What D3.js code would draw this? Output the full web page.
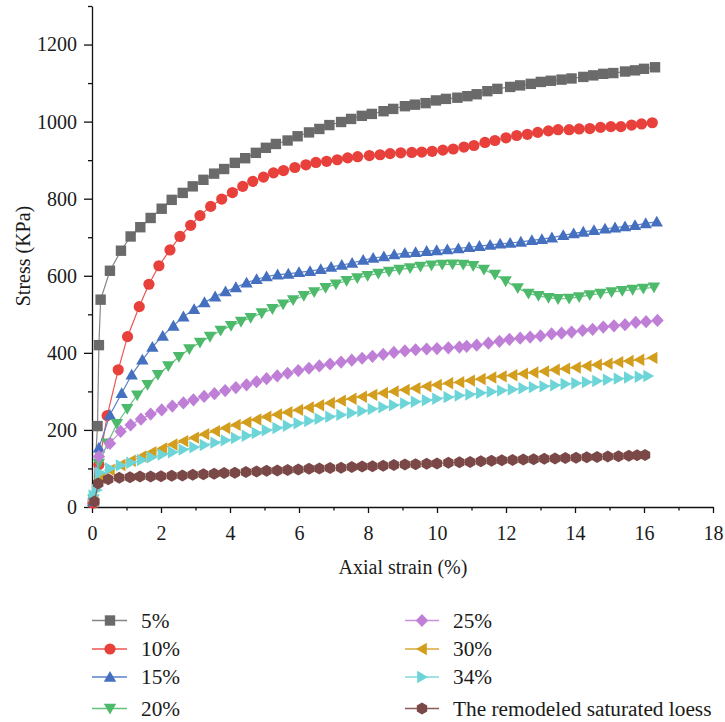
<!DOCTYPE html>
<html>
<head>
<meta charset="utf-8">
<script src="https://cdn.jsdelivr.net/npm/d3@7/dist/d3.min.js"></script>
<style>
  html, body { margin: 0; padding: 0; background: #fff; }
  svg { display: block; }
  text { font-family: "Liberation Serif", "DejaVu Serif", serif; fill: #1a1a1a; }
</style>
</head>
<body>
<svg id="chart" width="725" height="722"></svg>
<script>
// Stress–strain curves, [axial strain %, stress kPa]
const series5 = [[0.03,12],[0.16,210],[0.2,420],[0.25,538],[0.52,613],[0.84,665],[1.12,702],[1.4,726],[1.7,750],[2.02,774],[2.31,797],[2.63,815],[2.92,832],[3.23,849],[3.54,865],[3.83,877],[4.14,893],[4.44,905],[4.75,919],[5.04,932],[5.33,942],[5.67,951],[5.96,962],[6.29,972],[6.59,981],[6.88,991],[7.22,999],[7.51,1007],[7.82,1015],[8.11,1020],[8.45,1027],[8.73,1033],[9.07,1040],[9.36,1044],[9.67,1048],[9.97,1055],[10.26,1059],[10.59,1062],[10.88,1066],[11.15,1071],[11.46,1079],[11.75,1085],[12.12,1090],[12.41,1094],[12.72,1098],[13.01,1103],[13.3,1106],[13.61,1109],[13.9,1112],[14.24,1116],[14.53,1120],[14.82,1124],[15.11,1126],[15.45,1130],[15.74,1133],[16.0,1137],[16.32,1141]];

const series10 = [[0.03,10],[0.2,110],[0.44,237],[0.76,356],[1.03,442],[1.37,520],[1.65,578],[1.94,626],[2.26,667],[2.55,702],[2.86,731],[3.13,756],[3.44,780],[3.76,799],[4.07,816],[4.37,832],[4.66,845],[4.97,856],[5.26,867],[5.55,873],[5.88,881],[6.2,888],[6.49,894],[6.8,897],[7.11,901],[7.41,906],[7.7,909],[8.04,912],[8.35,914],[8.64,917],[8.95,919],[9.27,920],[9.56,921],[9.86,923],[10.17,926],[10.47,929],[10.78,934],[11.07,938],[11.39,946],[11.68,951],[12.0,958],[12.31,964],[12.62,967],[12.92,972],[13.23,976],[13.51,979],[13.83,979],[14.12,981],[14.43,982],[14.74,985],[15.04,987],[15.33,987],[15.64,991],[15.93,994],[16.24,997]];

const series15 = [[0.04,15],[0.2,154],[0.52,239],[0.86,295],[1.15,343],[1.46,382],[1.75,415],[2.05,444],[2.36,470],[2.65,494],[2.96,513],[3.26,531],[3.57,546],[3.87,559],[4.17,570],[4.48,582],[4.77,591],[5.06,598],[5.38,603],[5.69,605],[6.0,609],[6.32,612],[6.63,617],[6.93,623],[7.24,628],[7.54,633],[7.86,641],[8.15,646],[8.46,650],[8.76,655],[9.07,659],[9.38,661],[9.7,664],[9.99,666],[10.3,668],[10.62,671],[10.93,674],[11.23,677],[11.54,680],[11.83,683],[12.12,685],[12.43,688],[12.75,692],[13.04,695],[13.33,699],[13.66,705],[13.96,710],[14.24,714],[14.55,718],[14.87,722],[15.16,725],[15.45,728],[15.74,731],[16.05,736],[16.37,740]];

const series20 = [[0.04,20],[0.2,113],[0.45,165],[0.72,216],[1.02,255],[1.31,290],[1.61,317],[1.91,343],[2.21,366],[2.52,390],[2.82,410],[3.13,427],[3.42,442],[3.73,458],[4.03,470],[4.32,481],[4.6,491],[4.92,503],[5.23,514],[5.54,526],[5.83,537],[6.14,548],[6.44,558],[6.77,569],[7.07,578],[7.38,587],[7.69,594],[7.99,600],[8.3,606],[8.61,611],[8.91,616],[9.22,620],[9.52,624],[9.84,627],[10.15,629],[10.45,630],[10.76,629],[11.05,626],[11.36,616],[11.68,603],[11.99,586],[12.34,568],[12.65,554],[12.94,548],[13.23,543],[13.51,540],[13.83,541],[14.12,545],[14.43,550],[14.74,554],[15.06,558],[15.37,561],[15.67,564],[15.98,567],[16.29,570]];

const series25 = [[0.04,18],[0.2,131],[0.52,165],[0.83,196],[1.12,213],[1.42,228],[1.7,241],[2.02,252],[2.33,262],[2.65,270],[2.94,278],[3.25,287],[3.55,294],[3.86,302],[4.17,310],[4.48,317],[4.77,325],[5.06,333],[5.37,340],[5.67,347],[5.98,354],[6.29,360],[6.59,366],[6.9,371],[7.22,376],[7.53,381],[7.83,386],[8.13,391],[8.44,396],[8.75,401],[9.07,405],[9.38,408],[9.7,410],[10.0,411],[10.33,413],[10.65,415],[10.86,417],[11.15,420],[11.49,425],[11.81,430],[12.1,435],[12.41,438],[12.7,441],[13.0,444],[13.32,449],[13.61,451],[13.9,454],[14.22,458],[14.51,461],[14.82,467],[15.13,470],[15.45,473],[15.76,479],[16.06,481],[16.39,484]];

const series30 = [[0.04,15],[0.23,75],[0.52,96],[0.83,109],[1.13,120],[1.44,131],[1.73,142],[2.04,152],[2.34,162],[2.65,171],[2.96,180],[3.26,189],[3.57,197],[3.87,205],[4.17,213],[4.48,220],[4.77,227],[5.06,234],[5.37,240],[5.67,246],[5.98,252],[6.29,258],[6.59,264],[6.9,270],[7.22,276],[7.53,281],[7.83,286],[8.13,291],[8.44,296],[8.75,300],[9.07,304],[9.38,308],[9.7,313],[10.0,317],[10.33,321],[10.65,324],[10.96,328],[11.27,332],[11.58,336],[11.88,339],[12.19,342],[12.5,346],[12.8,349],[13.11,352],[13.42,356],[13.72,359],[14.03,362],[14.34,366],[14.64,369],[14.95,372],[15.26,376],[15.56,379],[15.87,382],[16.25,387]];

const series34 = [[0.04,30],[0.14,44],[0.23,89],[0.52,100],[0.83,108],[1.13,115],[1.44,122],[1.73,129],[2.04,136],[2.34,142],[2.65,149],[2.96,155],[3.26,161],[3.57,167],[3.87,173],[4.17,179],[4.48,185],[4.77,192],[5.06,199],[5.37,205],[5.67,211],[5.98,217],[6.29,223],[6.59,229],[6.9,234],[7.22,239],[7.53,244],[7.83,249],[8.13,254],[8.44,259],[8.75,264],[9.07,269],[9.38,273],[9.7,277],[10.0,281],[10.33,285],[10.65,289],[10.96,292],[11.27,296],[11.58,299],[11.88,302],[12.19,305],[12.5,308],[12.8,311],[13.11,313],[13.42,316],[13.72,319],[14.03,321],[14.34,324],[14.64,327],[14.95,330],[15.26,333],[15.56,336],[15.87,338],[16.12,340]];

const seriesRemodeled = [[0.07,14],[0.18,61],[0.47,72],[0.79,76],[1.1,77],[1.39,79],[1.7,79],[2.0,80],[2.31,81],[2.62,82],[2.92,84],[3.23,85],[3.54,86],[3.83,88],[4.14,89],[4.46,91],[4.77,92],[5.06,94],[5.37,95],[5.67,96],[5.98,97],[6.29,99],[6.59,100],[6.9,101],[7.22,102],[7.53,104],[7.83,105],[8.13,106],[8.44,107],[8.75,109],[9.07,110],[9.38,111],[9.7,112],[10.0,113],[10.33,115],[10.65,116],[10.96,117],[11.27,119],[11.58,120],[11.88,121],[12.19,122],[12.5,123],[12.8,124],[13.11,125],[13.42,126],[13.72,127],[14.03,128],[14.34,129],[14.64,130],[14.95,131],[15.26,132],[15.56,133],[15.8,134],[16.03,135]];

const seriesNames = ["5%", "10%", "15%", "20%", "25%", "30%", "34%", "The remodeled saturated loess"];
const seriesData = [series5, series10, series15, series20, series25, series30, series34, seriesRemodeled];
const markerColors = ["#6a6a6a", "#e8403b", "#4570bf", "#4dba6b", "#bf7fd7", "#d39d1d", "#6dd4d7", "#7a4947"];
const lineColors = ["#858585", "#ec5550", "#5a80c8", "#62c27c", "#c990dd", "#d8a83a", "#82dadc", "#8a5b59"];
const markerKinds = ["square", "circle", "up", "down", "diamond", "left", "right", "hexagon"];

const xTicks = [0, 2, 4, 6, 8, 10, 12, 14, 16, 18];
const xMinorTicks = [1, 3, 5, 7, 9, 11, 13, 15, 17];
const yTicks = [0, 200, 400, 600, 800, 1000, 1200];
const yMinorTicks = [100, 300, 500, 700, 900, 1100, 1300];

const svg = d3.select("#chart");
const x = d3.scaleLinear().domain([0, 18]).range([92, 713]);
const y = d3.scaleLinear().domain([0, 1300]).range([507, 6]);

// marker outlines, centred on the origin
function markerPath(kind) {
  const p = d3.path();
  const poly = pts => { p.moveTo(pts[0][0], pts[0][1]); pts.slice(1).forEach(q => p.lineTo(q[0], q[1])); p.closePath(); };
  switch (kind) {
    case "square": poly([[-5.2,-5.2],[5.2,-5.2],[5.2,5.2],[-5.2,5.2]]); break;
    case "circle": p.arc(0, 0, 5.6, 0, 2 * Math.PI); break;
    case "up": poly([[0,-6],[6.2,4.8],[-6.2,4.8]]); break;
    case "down": poly([[0,6],[6.2,-4.8],[-6.2,-4.8]]); break;
    case "left": poly([[-6,0],[4.8,-6.2],[4.8,6.2]]); break;
    case "right": poly([[6,0],[-4.8,-6.2],[-4.8,6.2]]); break;
    case "diamond": poly([[0,-6.6],[6.2,0],[0,6.6],[-6.2,0]]); break;
    case "hexagon": {
      const r = 6;
      poly(d3.range(6).map(k => {
        const a = -Math.PI / 2 + k * Math.PI / 3;
        return [r * Math.cos(a), r * Math.sin(a)];
      }));
      break;
    }
  }
  return p.toString();
}

// axes
const xAxis = svg.append("g").attr("transform", `translate(0,${y(0)})`)
  .call(d3.axisBottom(x).tickValues(xTicks).tickSize(6).tickSizeOuter(0).tickPadding(8).tickFormat(d3.format("d")));
svg.append("g").attr("transform", `translate(0,${y(0)})`)
  .call(d3.axisBottom(x).tickValues(xMinorTicks).tickSize(3.5).tickFormat(""))
  .call(g => g.select(".domain").remove());

const yAxis = svg.append("g").attr("transform", `translate(${x(0)},0)`)
  .call(d3.axisLeft(y).tickValues(yTicks).tickSize(8).tickSizeOuter(0).tickPadding(7).tickFormat(d3.format("d")));
svg.append("g").attr("transform", `translate(${x(0)},0)`)
  .call(d3.axisLeft(y).tickValues(yMinorTicks).tickSize(4).tickFormat(""))
  .call(g => g.select(".domain").remove());

svg.selectAll(".domain, .tick line").attr("stroke", "#111").attr("stroke-width", 1.3);
svg.selectAll(".tick text").attr("font-family", "Liberation Serif, serif").attr("font-size", 20).attr("fill", "#1a1a1a");
xAxis.selectAll(".tick text").attr("dy", "0.95em");

svg.append("text").attr("x", 403).attr("y", 574).attr("text-anchor", "middle")
  .attr("font-size", 20).text("Axial strain (%)");
svg.append("text").attr("transform", "translate(30,256) rotate(-90)").attr("text-anchor", "middle")
  .attr("font-size", 20).text("Stress (KPa)");

// curves: line first, then markers, series by series
const line = d3.line().x(d => x(d[0])).y(d => y(d[1]));
seriesData.forEach((data, i) => {
  const g = svg.append("g");
  g.append("path").datum(data).attr("d", line)
    .attr("fill", "none").attr("stroke", lineColors[i]).attr("stroke-width", 1.2);
  g.selectAll("path.m").data(data).join("path").attr("class", "m")
    .attr("d", markerPath(markerKinds[i]))
    .attr("transform", d => `translate(${x(d[0])},${y(d[1])})`)
    .attr("fill", markerColors[i]);
});

// legend in two columns
const legendRows = [620.5, 649, 677, 708.5];
const legendCols = [{ x0: 92, x1: 127, mx: 110, tx: 141 }, { x0: 405, x1: 439, mx: 422, tx: 453 }];
seriesNames.forEach((name, i) => {
  const col = legendCols[Math.floor(i / 4)];
  const ly = legendRows[i % 4];
  const g = svg.append("g");
  g.append("line").attr("x1", col.x0).attr("x2", col.x1).attr("y1", ly).attr("y2", ly)
    .attr("stroke", lineColors[i]).attr("stroke-width", 1.6);
  g.append("path").attr("d", markerPath(markerKinds[i]))
    .attr("transform", `translate(${col.mx},${ly})`).attr("fill", markerColors[i]);
  g.append("text").attr("x", col.tx).attr("y", ly).attr("dy", "0.34em")
    .attr("font-size", 21.3).text(name);
});
</script>
</body>
</html>
